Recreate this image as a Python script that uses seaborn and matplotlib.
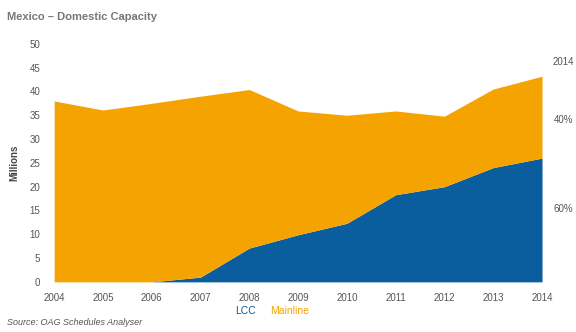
import matplotlib
matplotlib.use("Agg")
import matplotlib.pyplot as plt
import seaborn as sns
import numpy as np

years = [2004, 2005, 2006, 2007, 2008, 2009, 2010, 2011, 2012, 2013, 2014]
lcc = [0.0, 0.0, 0.0, 1.0, 7.1, 9.9, 12.3, 18.3, 20.0, 24.0, 26.0]
mainline = [38.0, 36.1, 37.5, 38.0, 33.3, 26.0, 22.7, 17.6, 14.8, 16.5, 17.2]
series_names = ["LCC", "Mainline"]
colors = ["#0A5E9E", "#F5A300"]
right_labels = ["2014", "40%", "60%"]

sns.set_theme(style="white")
plt.rcParams['font.family'] = ['Liberation Sans', 'DejaVu Sans']

fig = plt.figure(figsize=(5.76, 3.32), dpi=100)
ax = fig.add_axes([0.094, 0.151, 0.847, 0.717])
ax.stackplot(years, lcc, mainline, colors=colors, labels=series_names, linewidth=0)
ax.set_xlim(2004, 2014)
ax.set_ylim(0, 50)
ax.set_yticks(np.arange(0, 51, 5))
ax.set_xticks(years)
for s in ax.spines.values():
    s.set_visible(False)
ax.tick_params(axis='both', length=0, labelsize=7, colors="#555555")
ax.tick_params(axis='y', pad=10)
ax.tick_params(axis='x', pad=8)
ax.set_ylabel("Millions", fontsize=7, color="#444444", fontweight="bold", labelpad=7)

fig.text(0.012, 0.948, "Mexico \u2013 Domestic Capacity", fontsize=8, fontweight="bold", color="#777777", ha="left", va="center")
fig.text(0.012, 0.028, "Source: OAG Schedules Analyser", fontsize=6.5, style="italic", color="#555555", ha="left", va="center")

fig.text(0.427, 0.064, series_names[0], fontsize=7.5, color=colors[0], ha="center", va="center")
fig.text(0.502, 0.064, series_names[1], fontsize=7.5, color=colors[1], ha="center", va="center")

for lab, yp in zip(right_labels, [0.813, 0.638, 0.37]):
    fig.text(0.978, yp, lab, fontsize=7, color="#555555", ha="center", va="center")

fig.savefig("out.png", dpi=100)
